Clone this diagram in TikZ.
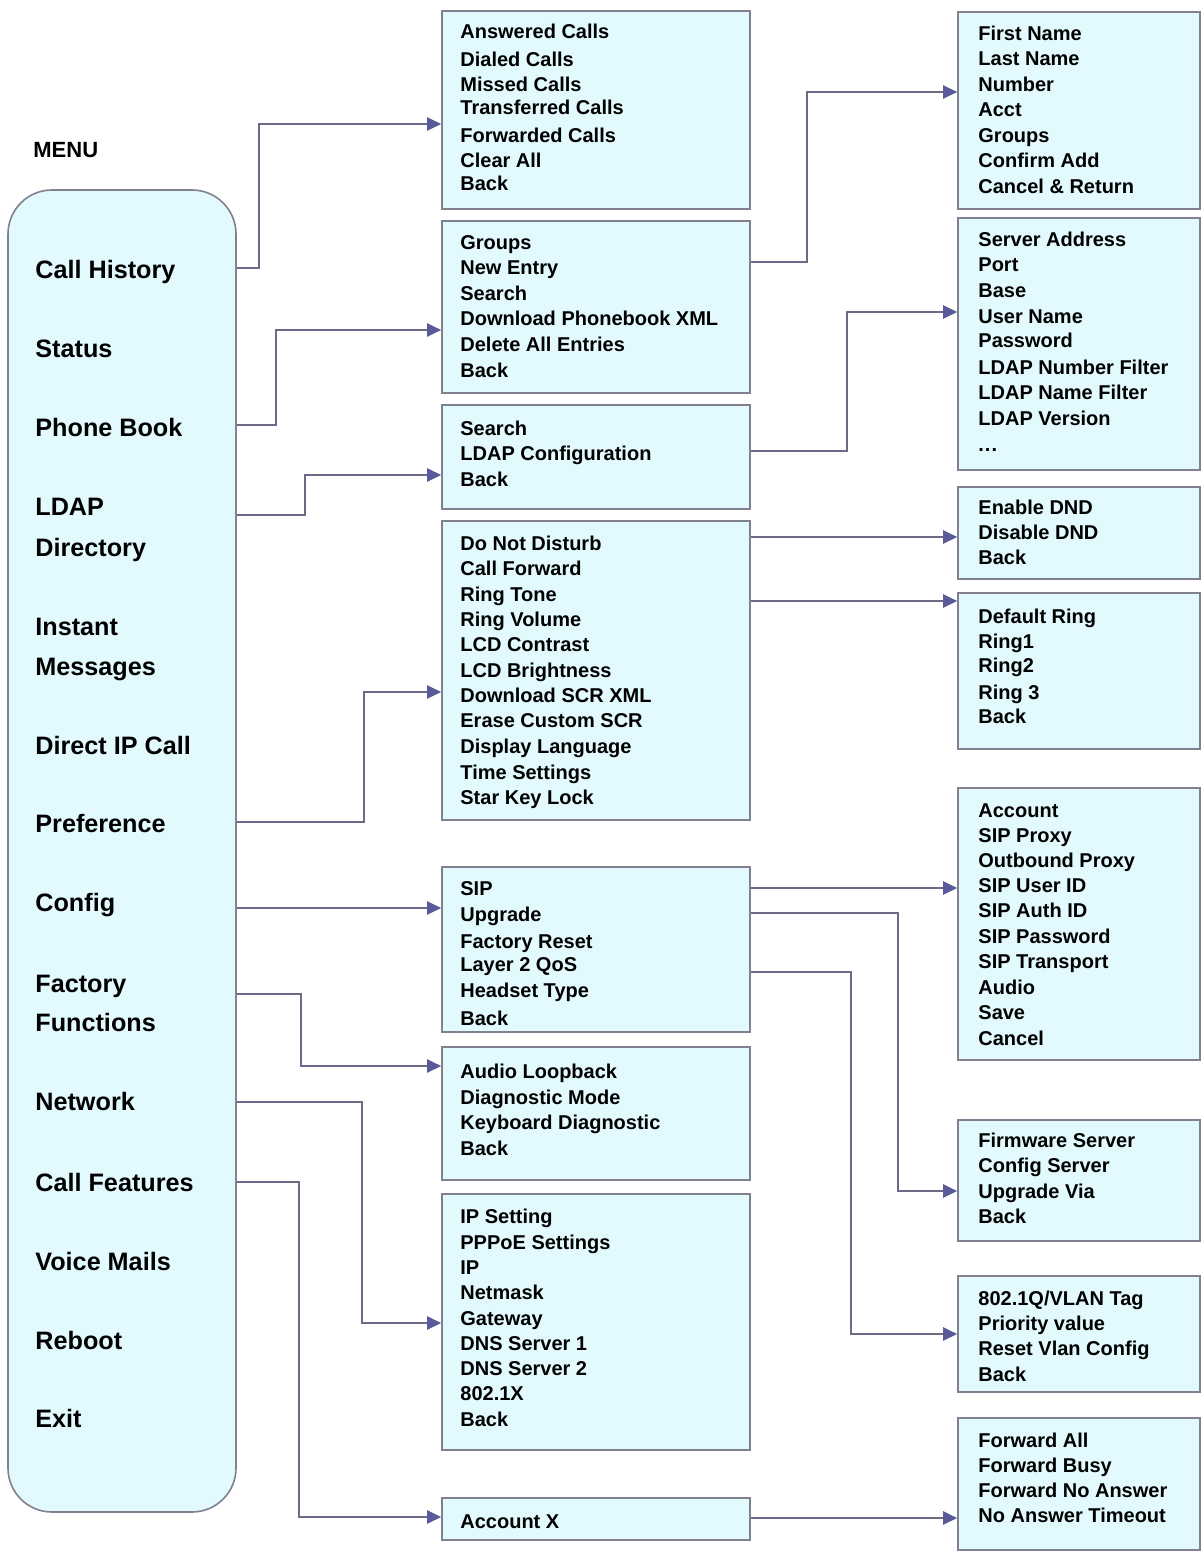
\documentclass[tikz,border=0pt]{standalone}
\usepackage{fontspec}
\setmainfont{Liberation Sans}
\usetikzlibrary{arrows.meta,fit}
\definecolor{boxfill}{HTML}{E2FAFE}
\definecolor{boxline}{HTML}{80808F}
\definecolor{linkc}{HTML}{6C6A86}
\definecolor{tipc}{HTML}{5B5A98}
\begin{document}
\begin{tikzpicture}[x=0.5pt,y=-0.5pt,
  box/.style={draw=boxline, fill=boxfill, line width=0.8pt, inner sep=0pt},
  item/.style={anchor=base west, inner sep=0pt, font=\bfseries\fontsize{10}{12}\selectfont},
  mitem/.style={anchor=base west, inner sep=0pt, font=\bfseries\fontsize{12.6}{15}\selectfont},
  link/.style={draw=linkc, line width=1.1pt, -{Triangle[length=7pt,width=6.5pt,color=tipc]}}]
\useasboundingbox (0,0) rectangle (1203,1556);

% menu
\node[anchor=base west, inner sep=0pt, font=\bfseries\fontsize{11}{13}\selectfont] (title) at (33,158) {MENU};
\node[box, rounded corners=22pt, fit={(8,190) (236,1512)}] (menu) {};
\foreach \y/\t [count=\i] in {269/Call History, 348/Status, 427/Phone Book, 506/LDAP, 547/Directory,
  626/Instant, 666/Messages, 745/Direct IP Call, 823/Preference, 902/Config, 983/Factory,
  1022/Functions, 1101/Network, 1182/Call Features, 1261/Voice Mails, 1340/Reboot, 1418/Exit}
  {\node[mitem] (m\i) at (35,\y+9.5) {\t};}

% middle boxes
\node[box, fit={(442,11) (750,209)}] (b1) {};
\node[box, fit={(442,221) (750,393)}] (b2) {};
\node[box, fit={(442,405) (750,509)}] (b3) {};
\node[box, fit={(442,521) (750,820)}] (b4) {};
\node[box, fit={(442,867) (750,1032)}] (b5) {};
\node[box, fit={(442,1047) (750,1180)}] (b6) {};
\node[box, fit={(442,1194) (750,1450)}] (b7) {};
\node[box, fit={(442,1498) (750,1540)}] (b8) {};

% right boxes
\node[box, fit={(958,12) (1200,209)}] (r1) {};
\node[box, fit={(958,218) (1200,470)}] (r2) {};
\node[box, fit={(958,487) (1200,579)}] (r3) {};
\node[box, fit={(958,593) (1200,749)}] (r4) {};
\node[box, fit={(958,788) (1200,1060)}] (r5) {};
\node[box, fit={(958,1120) (1200,1241)}] (r6) {};
\node[box, fit={(958,1276) (1200,1392)}] (r7) {};
\node[box, fit={(958,1418) (1200,1550)}] (r8) {};

% middle texts
\foreach \y/\t [count=\i] in {32/Answered Calls, 60/Dialed Calls, 85/Missed Calls, 108/Transferred Calls,
  136/Forwarded Calls, 161/Clear All, 184/Back}
  {\node[item] (b1-\i) at (460,\y+7) {\t};}
\foreach \y/\t [count=\i] in {243/Groups, 268/New Entry, 293/Search, 319/Download Phonebook XML,
  344/Delete All Entries, 370/Back}
  {\node[item] (b2-\i) at (460,\y+7) {\t};}
\foreach \y/\t [count=\i] in {428/Search, 453/LDAP Configuration, 479/Back}
  {\node[item] (b3-\i) at (460,\y+7) {\t};}
\foreach \y/\t [count=\i] in {543/Do Not Disturb, 568/Call Forward, 594/Ring Tone, 619/Ring Volume,
  644/LCD Contrast, 670/LCD Brightness, 695/Download SCR XML, 720/Erase Custom SCR,
  746/Display Language, 772/Time Settings, 797/Star Key Lock}
  {\node[item] (b4-\i) at (460,\y+7) {\t};}
\foreach \y/\t [count=\i] in {888/SIP, 914/Upgrade, 941/Factory Reset, 964/Layer 2 QoS,
  990/Headset Type, 1018/Back}
  {\node[item] (b5-\i) at (460,\y+7) {\t};}
\foreach \y/\t [count=\i] in {1071/Audio Loopback, 1097/Diagnostic Mode, 1122/Keyboard Diagnostic, 1148/Back}
  {\node[item] (b6-\i) at (460,\y+7) {\t};}
\foreach \y/\t [count=\i] in {1216/IP Setting, 1242/PPPoE Settings, 1267/IP, 1292/Netmask, 1318/Gateway,
  1343/DNS Server 1, 1368/DNS Server 2, 1393/802.1X, 1419/Back}
  {\node[item] (b7-\i) at (460,\y+7) {\t};}
\node[item] (b8-1) at (460,1521+7) {Account X};

% right texts
\foreach \y/\t [count=\i] in {34/First Name, 59/Last Name, 85/Number, 110/Acct, 136/Groups,
  161/Confirm Add, 187/Cancel \& Return}
  {\node[item] (r1-\i) at (978,\y+7) {\t};}
\foreach \y/\t [count=\i] in {240/Server Address, 265/Port, 291/Base, 316/User Name, 341/Password,
  367/LDAP Number Filter, 392/LDAP Name Filter, 418/LDAP Version}
  {\node[item] (r2-\i) at (978,\y+7) {\t};}
\node[item] (r2-9) at (978,444+7) {.\kern0.5pt.\kern0.5pt.};
\foreach \y/\t [count=\i] in {507/Enable DND, 532/Disable DND, 557/Back}
  {\node[item] (r3-\i) at (978,\y+7) {\t};}
\foreach \y/\t [count=\i] in {616/Default Ring, 641/Ring1, 665/Ring2, 692/Ring 3, 716/Back}
  {\node[item] (r4-\i) at (978,\y+7) {\t};}
\foreach \y/\t [count=\i] in {810/Account, 835/SIP Proxy, 860/Outbound Proxy, 885/SIP User ID,
  910/SIP Auth ID, 936/SIP Password, 961/SIP Transport, 987/Audio, 1012/Save, 1038/Cancel}
  {\node[item] (r5-\i) at (978,\y+7) {\t};}
\foreach \y/\t [count=\i] in {1140/Firmware Server, 1165/Config Server, 1191/Upgrade Via, 1216/Back}
  {\node[item] (r6-\i) at (978,\y+7) {\t};}
\foreach \y/\t [count=\i] in {1298/{802.1Q/VLAN Tag}, 1323/Priority value, 1348/Reset Vlan Config, 1374/Back}
  {\node[item] (r7-\i) at (978,\y+7) {\t};}
\foreach \y/\t [count=\i] in {1440/Forward All, 1465/Forward Busy, 1490/Forward No Answer, 1515/No Answer Timeout}
  {\node[item] (r8-\i) at (978,\y+7) {\t};}

% connectors from menu
\draw[link] (menu.east |- 0,268) -- (259,268) |- (b1.west |- 0,124);
\draw[link] (menu.east |- 0,425) -- (276,425) |- (b2.west |- 0,330);
\draw[link] (menu.east |- 0,515) -- (305,515) |- (b3.west |- 0,475);
\draw[link] (menu.east |- 0,822) -- (364,822) |- (b4.west |- 0,692);
\draw[link] (menu.east |- 0,908) -- (b5.west |- 0,908);
\draw[link] (menu.east |- 0,994) -- (301,994) |- (b6.west |- 0,1066);
\draw[link] (menu.east |- 0,1102) -- (362,1102) |- (b7.west |- 0,1323);
\draw[link] (menu.east |- 0,1182) -- (299,1182) |- (b8.west |- 0,1517);

% connectors from middle boxes
\draw[link] (b2.east |- 0,262) -- (807,262) |- (r1.west |- 0,92);
\draw[link] (b3.east |- 0,451) -- (847,451) |- (r2.west |- 0,312);
\draw[link] (b4.east |- 0,537) -- (r3.west |- 0,537);
\draw[link] (b4.east |- 0,601) -- (r4.west |- 0,601);
\draw[link] (b5.east |- 0,888) -- (r5.west |- 0,888);
\draw[link] (b5.east |- 0,913) -- (898,913) |- (r6.west |- 0,1191);
\draw[link] (b5.east |- 0,972) -- (851,972) |- (r7.west |- 0,1334);
\draw[link] (b8.east |- 0,1518) -- (r8.west |- 0,1518);
\end{tikzpicture}
\end{document}
